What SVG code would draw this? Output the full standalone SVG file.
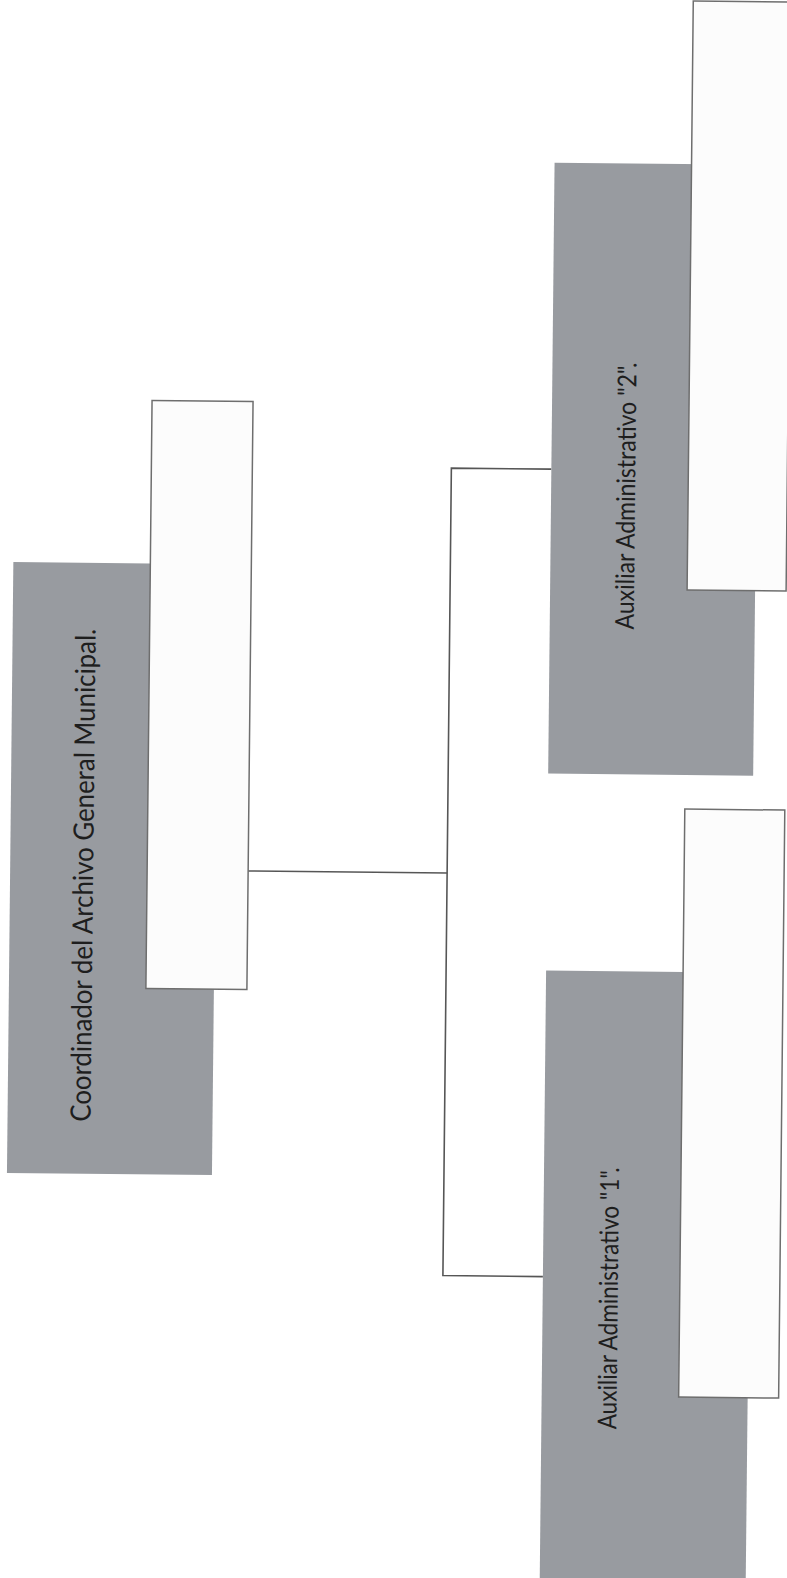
<svg xmlns="http://www.w3.org/2000/svg" width="787" height="1578" viewBox="0 0 787 1578">
  <style>
    .shade { fill: #989ba0; }
    .card { fill: #fcfcfc; stroke: #6e6e6e; stroke-width: 1.5; }
    .lbl { font-family: Lato, "Open Sans", "Liberation Sans", sans-serif; fill: #1e1e1e; }
    .conn { fill: none; stroke: #565656; stroke-width: 1.6; }
  </style>
  <rect width="787" height="1578" fill="#ffffff"/>
  <g transform="rotate(0.6 393.5 789)">
    <g id="connectors">
      <path class="conn" d="M249 872.5 H448"/>
      <path class="conn" d="M548 467.5 H448 V1275 H548"/>
    </g>
    <g id="node-coordinador">
      <rect class="shade" x="11" y="566" width="205" height="611"/>
      <rect class="card" x="148" y="403" width="101" height="588"/>
      <text class="lbl" font-size="28" transform="translate(94 1125) rotate(-90)" textLength="493" lengthAdjust="spacingAndGlyphs">Coordinador del Archivo General Municipal.</text>
    </g>
    <g id="node-auxiliar-2">
      <rect class="shade" x="548" y="161" width="205" height="611"/>
      <rect class="card" x="685" y="-2" width="99" height="589"/>
      <text class="lbl" font-size="26" transform="translate(632 627) rotate(-90)" textLength="267" lengthAdjust="spacingAndGlyphs">Auxiliar Administrativo "2".</text>
    </g>
    <g id="node-auxiliar-1">
      <rect class="shade" x="548" y="969" width="206" height="620"/>
      <rect class="card" x="685" y="806" width="100" height="588"/>
      <text class="lbl" font-size="26" transform="translate(623 1427) rotate(-90)" textLength="262" lengthAdjust="spacingAndGlyphs">Auxiliar Administrativo "1".</text>
    </g>
  </g>
</svg>
